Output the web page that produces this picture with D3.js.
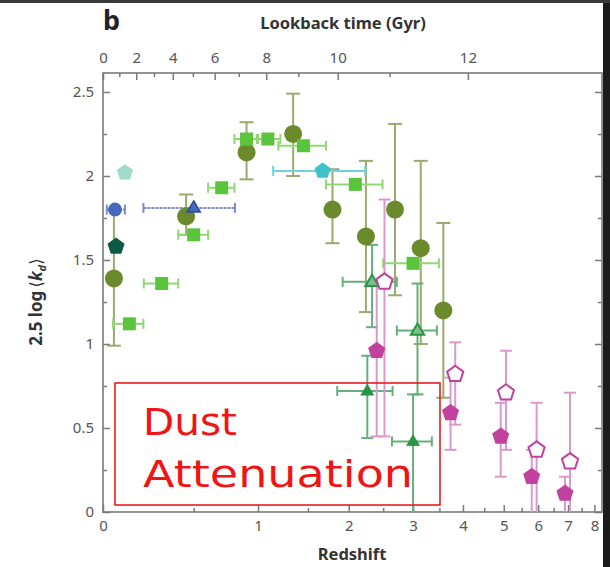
<!DOCTYPE html>
<html><head><meta charset="utf-8">
<script src="https://cdn.jsdelivr.net/npm/d3@7/dist/d3.min.js"></script>
<style>
html,body{margin:0;padding:0;background:#fff;}
svg{display:block;}
text{font-family:"Noto Sans","Open Sans",sans-serif;}
</style></head>
<body>
<svg id="chart" width="610" height="567"></svg>
<script>
// ---------- DATA ----------
const redshiftTicks = [0,1,2,3,4,5,6,7,8];
const redshiftMinor = [0.5,1.5,2.5,3.5,4.5,5.5,6.5,7.5];
const lookbackTicks = [0,2,4,6,8,10,12];
const lookbackMinor = [1,3,5,7,9,11];
const yTicks = [0,0.5,1,1.5,2,2.5];
const yMinor = [0.25,0.75,1.25,1.75,2.25];

// olive circles: [z, value, lo, hi]
const oliveCircles = [
  [0.05,1.39,0.99,1.80],[0.45,1.76,1.65,1.89],[0.90,2.14,1.98,2.32],
  [1.34,2.25,2.00,2.49],[1.79,1.80,1.60,2.04],[2.24,1.64,1.19,2.09],
  [2.69,1.80,1.29,2.31],[3.14,1.57,1.00,2.09],[3.58,1.20,0.68,1.72]
];
// light green squares: [z, value, zlo, zhi]
const greenSquares = [
  [0.125,1.12,0.046,0.198],[0.30,1.36,0.20,0.40],[0.50,1.65,0.40,0.60],
  [0.70,1.93,0.60,0.80],[0.90,2.22,0.80,0.99],[1.09,2.22,1.00,1.21],
  [1.45,2.18,1.19,1.71],[2.09,1.95,1.71,2.49],[3.00,1.48,2.50,3.49]
];
// blue: circle and triangle with horizontal errors [z, value, zlo, zhi]
const blueCircle = [[0.055,1.80,0.017,0.103]];
const blueTriangle = [[0.50,1.81,0.198,0.804]];
// teal pentagons
const paleTealPentagon = [[0.103,2.02]];
const cyanPentagon = [[1.67,2.03,1.14,2.23]];
const darkTealPentagon = [[0.06,1.58]];
// green triangles: [z, value, zlo, zhi, lo, hi, open]
const greenTriangles = [
  [2.33,1.37,1.92,2.72,1.10,1.59,1],[3.08,1.08,2.72,3.45,0.70,1.36,1],
  [2.26,0.72,1.85,2.65,0.44,0.93,0],[3.00,0.42,2.64,3.35,0.00,0.70,0]
];
// magenta pentagons: [z, value, lo, hi]
const magentaFilled = [
  [2.40,0.96,0.45,1.37],[3.73,0.59,0.37,0.80],[4.92,0.45,0.21,0.65],
  [5.80,0.21,0.00,0.37],[6.89,0.11,0.00,0.21]
];
const magentaOpen = [
  [2.52,1.37,0.45,1.86],[3.83,0.82,0.52,1.01],[5.06,0.71,0.37,0.96],
  [5.95,0.37,0.00,0.65],[7.07,0.30,0.00,0.71]
];

// ---------- COSMOLOGY for lookback axis ----------
const H0 = 70, Om = 0.3, OL = 0.7, tH = 977.8 / H0;
function lookback(z){
  const n = 400; let s = 0;
  for (let i=0;i<n;i++){
    const zz = (i+0.5)*z/n;
    s += 1/((1+zz)*Math.sqrt(Om*Math.pow(1+zz,3)+OL));
  }
  return tH * s * z / n;
}
function zOfLookback(t){
  let lo=0, hi=20;
  for (let i=0;i<60;i++){ const m=(lo+hi)/2; if (lookback(m)<t) lo=m; else hi=m; }
  return (lo+hi)/2;
}

// ---------- LAYOUT ----------
const L=103, R=602, T=73, B=512;
const svg = d3.select("#chart");
const x0 = d3.scaleLog().domain([1, 9.31]).range([L, R]);   // on (1+z)
const x = z => x0(1+z);
const y = d3.scaleLinear().domain([0, 2.613]).range([B, T]);

// dark edges of the screenshot
svg.append("rect").attr("x",603).attr("y",0).attr("width",7).attr("height",567).attr("fill","#1c1c1c");
svg.append("rect").attr("x",0).attr("y",0).attr("width",610).attr("height",3).attr("fill","#3a3a3a");

const axisCol = "#7a7a7a", labCol = "#555";

function styleAxis(g){
  g.select(".domain").remove();
  g.selectAll("line").attr("stroke",axisCol).attr("stroke-width",1.5);
  g.selectAll("text").attr("fill",labCol).style("font-size","15px").style("font-family","'Noto Sans',sans-serif");
}

// bottom axis (redshift)
svg.append("g").attr("transform",`translate(0,${B})`)
  .call(d3.axisBottom(x0).tickValues(redshiftTicks.map(z=>1+z)).tickFormat(d=>d3.format("d")(Math.round(d-1)))
    .tickSizeInner(-7).tickSizeOuter(0).tickPadding(8))
  .call(styleAxis);
svg.append("g").attr("transform",`translate(0,${B})`)
  .call(d3.axisBottom(x0).tickValues(redshiftMinor.map(z=>1+z)).tickFormat("").tickSizeInner(-4).tickSizeOuter(0))
  .call(styleAxis);

// top axis (lookback time)
svg.append("g").attr("transform",`translate(0,${T})`)
  .call(d3.axisTop(x0).tickValues(lookbackTicks.map(t=>1+zOfLookback(t))).tickFormat((d,i)=>lookbackTicks[i])
    .tickSizeInner(-7).tickSizeOuter(0).tickPadding(10))
  .call(styleAxis);
svg.append("g").attr("transform",`translate(0,${T})`)
  .call(d3.axisTop(x0).tickValues(lookbackMinor.map(t=>1+zOfLookback(t))).tickFormat("").tickSizeInner(-4).tickSizeOuter(0))
  .call(styleAxis);

// left axis
svg.append("g").attr("transform",`translate(${L},0)`)
  .call(d3.axisLeft(y).tickValues(yTicks).tickFormat(d=>d).tickSizeInner(-7).tickSizeOuter(0).tickPadding(9))
  .call(styleAxis);
svg.append("g").attr("transform",`translate(${L},0)`)
  .call(d3.axisLeft(y).tickValues(yMinor).tickFormat("").tickSizeInner(-4).tickSizeOuter(0))
  .call(styleAxis);
// right axis
svg.append("g").attr("transform",`translate(${R},0)`)
  .call(d3.axisRight(y).tickValues(yTicks).tickFormat("").tickSizeInner(-7).tickSizeOuter(0))
  .call(styleAxis);
svg.append("g").attr("transform",`translate(${R},0)`)
  .call(d3.axisRight(y).tickValues(yMinor).tickFormat("").tickSizeInner(-4).tickSizeOuter(0))
  .call(styleAxis);

// frame
svg.append("rect").attr("x",L).attr("y",T).attr("width",R-L).attr("height",B-T)
  .attr("fill","none").attr("stroke",axisCol).attr("stroke-width",1.6);

// titles
svg.append("text").attr("x",103).attr("y",30).text("b")
  .style("font-size","27px").style("font-weight","bold").attr("fill","#222");
svg.append("text").attr("x",343).attr("y",29).attr("text-anchor","middle").text("Lookback time (Gyr)")
  .style("font-size","16.5px").style("font-weight","bold").attr("fill","#333");
svg.append("text").attr("x",352).attr("y",560).attr("text-anchor","middle").text("Redshift")
  .style("font-size","16.5px").style("font-weight","bold").attr("fill","#333");
const yl = svg.append("text").attr("transform","translate(42,302) rotate(-90)").attr("text-anchor","middle")
  .style("font-size","17px").style("font-weight","bold").attr("fill","#333");
yl.append("tspan").text("2.5 log");
yl.append("tspan").text("\u27E8").attr("dx",3).style("font-weight","normal").style("font-family","'DejaVu Sans',sans-serif");
yl.append("tspan").text("k").style("font-style","italic");
yl.append("tspan").text("d").attr("dy",4).style("font-size","11px").style("font-style","italic");
yl.append("tspan").text("\u27E9").attr("dy",-4).style("font-weight","normal").style("font-family","'DejaVu Sans',sans-serif");

// ---------- helpers ----------
const plot = svg.append("g");
function vErr(g, data, col, cap, getX, getLo, getHi, w, dash){
  data.forEach(d=>{
    const cx=getX(d), y1=y(getLo(d)), y2=y(getHi(d));
    g.append("line").attr("x1",cx).attr("x2",cx).attr("y1",y1).attr("y2",y2).attr("stroke",col).attr("stroke-width",w).attr("stroke-dasharray",dash||null);
    [y1,y2].forEach(yy=>{ if (Math.abs(yy-B)>1) g.append("line").attr("x1",cx-cap).attr("x2",cx+cap).attr("y1",yy).attr("y2",yy).attr("stroke",col).attr("stroke-width",w); });
  });
}
function hErr(g, data, col, cap, getY, getLo, getHi, w, dash){
  data.forEach(d=>{
    const cy=getY(d), x1=x(getLo(d)), x2=x(getHi(d));
    g.append("line").attr("x1",x1).attr("x2",x2).attr("y1",cy).attr("y2",cy).attr("stroke",col).attr("stroke-width",w).attr("stroke-dasharray",dash||null);
    [x1,x2].forEach(xx=>g.append("line").attr("x1",xx).attr("x2",xx).attr("y1",cy-cap).attr("y2",cy+cap).attr("stroke",col).attr("stroke-width",w));
  });
}
function pentagonPath(r){
  const pts=[]; for(let i=0;i<5;i++){ const a=-Math.PI/2+i*2*Math.PI/5; pts.push([r*Math.cos(a), r*Math.sin(a)]); }
  return "M"+pts.map(p=>p.join(",")).join("L")+"Z";
}
function triPath(r){
  return `M0,${-r}L${r*0.95},${r*0.6}L${-r*0.95},${r*0.6}Z`;
}

// ---------- ERROR BARS ----------
const cOlive="#6b8a2c", cOliveE="#9aaa6e";
const cSq="#5ac43c", cSqE="#8fd874";
const cBlue="#4668bc", cBlueE="#7d8cd0";
const cCyan="#3ec3c9", cPale="#9fdccb", cDark="#0f5a46";
const cTri="#2a9444", cTriE="#64b07a";
const cMag="#c2419f", cMagE="#d99acb";

vErr(plot, oliveCircles, cOliveE, 7, d=>x(d[0]), d=>d[2], d=>d[3], 2);
hErr(plot, greenSquares, cSqE, 5, d=>y(d[1]), d=>d[2], d=>d[3], 2);
hErr(plot, blueCircle, cBlueE, 5, d=>y(d[1]), d=>d[2], d=>d[3], 2, "3,1");
hErr(plot, blueTriangle, cBlueE, 5, d=>y(d[1]), d=>d[2], d=>d[3], 2, "3,1");
hErr(plot, cyanPentagon, "#6fd3da", 5, d=>y(d[1]), d=>d[2], d=>d[3], 2);
vErr(plot, greenTriangles, cTriE, 6, d=>x(d[0]), d=>d[4], d=>d[5], 2);
hErr(plot, greenTriangles, cTriE, 5, d=>y(d[1]), d=>d[2], d=>d[3], 2);
vErr(plot, magentaFilled, cMagE, 6, d=>x(d[0]), d=>d[2], d=>d[3], 2);
vErr(plot, magentaOpen, cMagE, 6, d=>x(d[0]), d=>d[2], d=>d[3], 2);

// ---------- MARKERS ----------
plot.selectAll(".oc").data(oliveCircles).join("circle")
  .attr("cx",d=>x(d[0])).attr("cy",d=>y(d[1])).attr("r",9).attr("fill",cOlive);
plot.selectAll(".sq").data(greenSquares).join("rect")
  .attr("x",d=>x(d[0])-6.5).attr("y",d=>y(d[1])-6.5).attr("width",13).attr("height",13).attr("fill",cSq);
plot.selectAll(".bc").data(blueCircle).join("circle")
  .attr("cx",d=>x(d[0])).attr("cy",d=>y(d[1])).attr("r",7).attr("fill",cBlue);
plot.selectAll(".bt").data(blueTriangle).join("path")
  .attr("transform",d=>`translate(${x(d[0])},${y(d[1])})`).attr("d",triPath(7))
  .attr("fill",cBlue).attr("stroke","#2d4a9a").attr("stroke-width",1.5);
plot.selectAll(".pt").data(paleTealPentagon).join("path")
  .attr("transform",d=>`translate(${x(d[0])},${y(d[1])})`).attr("d",pentagonPath(8.5)).attr("fill",cPale);
plot.selectAll(".cp").data(cyanPentagon).join("path")
  .attr("transform",d=>`translate(${x(d[0])},${y(d[1])})`).attr("d",pentagonPath(8.5)).attr("fill",cCyan);
plot.selectAll(".dp").data(darkTealPentagon).join("path")
  .attr("transform",d=>`translate(${x(d[0])},${y(d[1])})`).attr("d",pentagonPath(9)).attr("fill",cDark);
plot.selectAll(".gt").data(greenTriangles).join("path")
  .attr("transform",d=>`translate(${x(d[0])},${y(d[1])})`).attr("d",triPath(7))
  .attr("fill",d=>d[6]?"#7cc08e":cTri).attr("stroke",cTri).attr("stroke-width",d=>d[6]?2:0.5);
plot.selectAll(".mf").data(magentaFilled).join("path")
  .attr("transform",d=>`translate(${x(d[0])},${y(d[1])})`).attr("d",pentagonPath(9)).attr("fill",cMag);
plot.selectAll(".mo").data(magentaOpen).join("path")
  .attr("transform",d=>`translate(${x(d[0])},${y(d[1])})`).attr("d",pentagonPath(8.5))
  .attr("fill","#fff").attr("stroke",cMag).attr("stroke-width",2);

// ---------- ANNOTATION ----------
svg.append("rect").attr("x",115).attr("y",383).attr("width",325).attr("height",122)
  .attr("fill","none").attr("stroke","#f21a1a").attr("stroke-width",1.6);
svg.append("text").attr("x",143).attr("y",435).text("Dust")
  .attr("textLength",94).attr("lengthAdjust","spacingAndGlyphs")
  .style("font-family","'Comic Sans MS','DejaVu Sans',sans-serif").style("font-size","38px").attr("fill","#f01515");
svg.append("text").attr("x",143).attr("y",487).text("Attenuation")
  .attr("textLength",270).attr("lengthAdjust","spacingAndGlyphs")
  .style("font-family","'Comic Sans MS','DejaVu Sans',sans-serif").style("font-size","38px").attr("fill","#f01515");
</script>
</body></html>
